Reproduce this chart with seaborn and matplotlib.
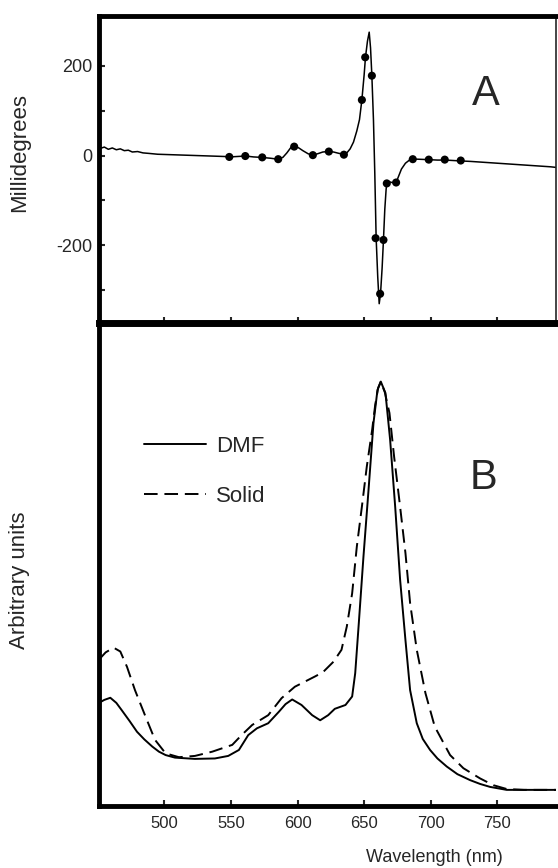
import matplotlib
matplotlib.use("Agg")
import matplotlib.pyplot as plt
import seaborn as sns
import pandas as pd

# ---- panel A : CD spectrum (millidegrees) ----
cd_nm = [452, 455, 458, 461, 464, 467, 470, 473, 476, 480, 484, 488, 495, 505,
         515, 525, 535, 545, 549, 555, 561, 567, 573, 580, 585, 589, 592, 595,
         598, 601, 604, 608, 611, 615, 619, 623, 627, 631, 634.5, 637, 639.5,
         642, 644.5, 646.5, 648.3, 650, 651, 652.5, 653.8, 654.8, 655.8, 657,
         658, 659, 660.2, 661.3, 662.3, 663.5, 664.5, 665.5, 666.5, 667, 668,
         671, 674, 676, 678, 681, 684, 686, 690, 698, 705, 711, 717, 723, 730,
         740, 750, 760, 770, 780, 790, 796]
cd_mdeg = [16, 19, 14, 17, 13, 15, 11, 12, 8, 9, 6, 5, 3, 2,
           1, 0, -1, -2, -3, -2, -1, -3, -4, -6, -8, -4, 6, 18,
           21, 17, 11, 4, 1, 4, 8, 9, 8, 5, 3, 6, 15,
           30, 55, 80, 124, 180, 219, 255, 275, 240, 178, 79,
           -40, -183, -270, -330, -308, -250, -188, -120, -75, -62, -58,
           -60, -60, -45, -30, -17, -10, -8.5, -8, -9, -10, -10, -11, -12, -13,
           -15, -17, -19, -21, -23, -25, -27]

dot_nm = [548.8, 560.8, 573.5, 585.5, 597.5, 611.5, 623.5, 634.8, 648.3, 650.8,
          655.8, 658.6, 662, 664.5, 667, 674, 686.5, 698.5, 710.5, 722.5]
dot_mdeg = [-3, -1, -4, -8, 20, 1, 9, 2, 124, 219,
            178, -184, -308, -188, -62, -60, -8, -9, -9, -11]

# ---- panel B : absorption, arbitrary units ----
dmf_nm = [451, 455, 459.5, 464, 468, 474, 479.5, 485, 491, 496, 501, 508, 523,
          538, 548, 556, 563, 569.5, 578, 586, 591, 596, 603, 611, 617, 623, 628,
          636, 641, 643.3, 646, 649.5, 653.3, 657, 660, 662.5, 666, 669.5, 673.3,
          677, 681, 684.5, 689.5, 694, 699.5, 705, 712, 720, 729.5, 737, 744.5,
          757, 770, 795]
dmf_abs = [0.243, 0.250, 0.255, 0.243, 0.226, 0.200, 0.175, 0.157, 0.140, 0.128,
           0.120, 0.114, 0.111, 0.112, 0.118, 0.132, 0.167, 0.183, 0.195, 0.222,
           0.240, 0.251, 0.238, 0.214, 0.202, 0.214, 0.229, 0.238, 0.258, 0.313,
           0.431, 0.588, 0.745, 0.902, 0.980, 1.0, 0.973, 0.863, 0.705, 0.533,
           0.391, 0.273, 0.195, 0.158, 0.132, 0.112, 0.093, 0.075, 0.061, 0.052,
           0.045, 0.038, 0.038, 0.038]

solid_nm = [451, 456, 462, 467, 472, 478, 486, 493, 501, 511, 523, 536, 551, 558,
            566, 578, 588, 598, 613, 619, 627, 633, 637, 641, 644.5, 648.3, 652,
            656, 658.3, 660.5, 662.5, 665.5, 669, 672.5, 677, 681, 684.5, 689.5,
            696, 703, 714.5, 724.5, 737, 747, 757, 770, 795]
solid_abs = [0.345, 0.362, 0.373, 0.364, 0.328, 0.273, 0.210, 0.156, 0.124, 0.115,
             0.118, 0.128, 0.144, 0.167, 0.191, 0.214, 0.254, 0.281, 0.305, 0.315,
             0.340, 0.368, 0.423, 0.501, 0.611, 0.705, 0.800, 0.886, 0.945, 0.985,
             1.0, 0.975, 0.926, 0.823, 0.705, 0.596, 0.478, 0.368, 0.266, 0.187,
             0.120, 0.089, 0.065, 0.049, 0.040, 0.038, 0.038]

x_ticks = [500, 550, 600, 650, 700, 750]

sns.set_style("ticks")
plt.rcParams["font.family"] = ["Liberation Sans", "DejaVu Sans"]
plt.rcParams["axes.unicode_minus"] = False

fig = plt.figure(figsize=(5.58, 8.68), dpi=100)
axA = fig.add_axes([99 / 558, 1 - 323 / 868, 457 / 558, 307 / 868])
axB = fig.add_axes([99 / 558, 1 - 806 / 868, 457 / 558, 483 / 868])

# panel A
cd = pd.DataFrame({"nm": cd_nm, "mdeg": cd_mdeg})
dots = pd.DataFrame({"nm": dot_nm, "mdeg": dot_mdeg})
sns.lineplot(data=cd, x="nm", y="mdeg", ax=axA, color="black", lw=1.1,
             estimator=None, sort=False)
sns.scatterplot(data=dots, x="nm", y="mdeg", ax=axA, color="black", s=34,
                edgecolor="none", zorder=3)
axA.set_xlim(451, 794)
axA.set_ylim(-373, 311)
axA.set_xticks(x_ticks)
axA.set_xticklabels([])
axA.set_yticks([-200, 0, 200])
axA.set_yticks([-300, -100, 100], minor=True)
axA.set_xlabel("")
axA.set_ylabel("Millidegrees", fontsize=16)
axA.yaxis.set_label_coords(-0.15, 0.554)
axA.tick_params(axis="both", which="both", direction="in", length=4, width=1.5,
                labelsize=13, pad=5)
axA.tick_params(axis="x", top=False)
axA.text(0.847, 0.746, "A", transform=axA.transAxes, fontsize=30,
         ha="center", va="center")

# panel B
absb = pd.DataFrame({
    "nm": dmf_nm + solid_nm,
    "abs": dmf_abs + solid_abs,
    "sample": ["DMF"] * len(dmf_nm) + ["Solid"] * len(solid_nm),
})
sns.lineplot(data=absb, x="nm", y="abs", style="sample", ax=axB, color="black",
             lw=1.4, estimator=None, dashes={"DMF": "", "Solid": (7, 3.5)})
axB.set_xlim(451, 794)
axB.set_ylim(0, 1.138)
axB.set_xticks(x_ticks)
axB.set_yticks([])
axB.set_xlabel("Wavelength (nm)", fontsize=13)
axB.xaxis.set_label_coords(0.733, -0.089)
axB.set_ylabel("Arbitrary units", fontsize=16)
axB.yaxis.set_label_coords(-0.15, 0.468)
axB.tick_params(axis="x", direction="in", length=4, width=1.5, labelsize=12,
                pad=7)
axB.text(0.842, 0.679, "B", transform=axB.transAxes, fontsize=30,
         ha="center", va="center")
leg = axB.legend(loc="upper left", bbox_to_anchor=(0.098, 0.766), frameon=False,
                 fontsize=16, handlelength=2.8, handletextpad=0.45,
                 labelspacing=1.3, borderpad=0, borderaxespad=0)
for h in leg.get_lines():
    h.set_linewidth(1.4)

for ax in (axA, axB):
    for side in ("left", "top", "bottom"):
        ax.spines[side].set_linewidth(3.5)
        ax.spines[side].set_color("black")
axA.spines["right"].set_linewidth(1.2)
axB.spines["right"].set_visible(False)
axB.spines["top"].set_linewidth(5)

fig.savefig("out.png", dpi=100)
